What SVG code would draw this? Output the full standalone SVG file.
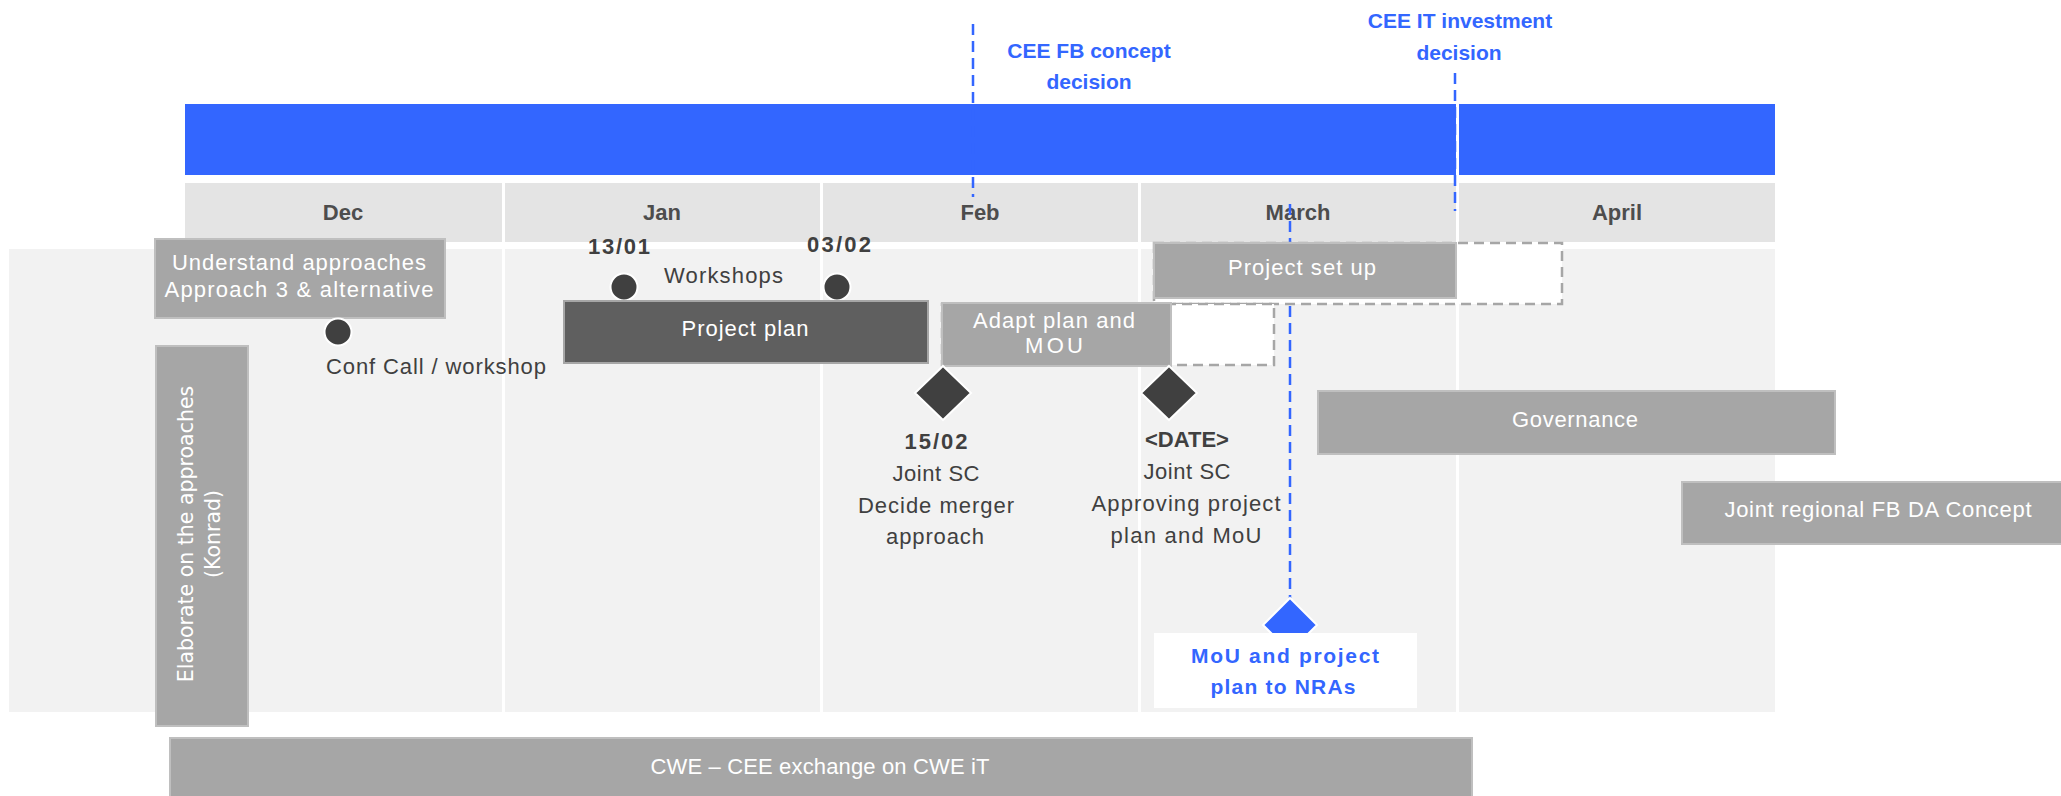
<svg xmlns="http://www.w3.org/2000/svg" width="2061" height="796" viewBox="0 0 2061 796">
<style>
.bg{fill:#F2F2F2}
.sep{fill:#FFFFFF}
.hdr{fill:#E4E4E4}
.band{fill:#3366FF}
.box{fill:#A6A6A6;stroke:#BFBFBF;stroke-width:2}
.dark{fill:#5F5F5F;stroke:#A6A6A6;stroke-width:2}
.dashbox{fill:#FFFFFF;stroke:#A6A6A6;stroke-width:2.5;stroke-dasharray:10 6}
.ms{fill:#404040;stroke:#FFFFFF;stroke-width:2}
.bms{fill:#3366FF;stroke:#FFFFFF;stroke-width:2}
.bl{fill:none;stroke:#3366FF;stroke-width:2.5;stroke-dasharray:11 6}
text{font-family:"Liberation Sans",Arial,sans-serif;font-size:22px}
.mon{font-weight:bold;fill:#4D4D4D;text-anchor:middle}
.w{fill:#FFFFFF;text-anchor:middle}
.d{fill:#404040;text-anchor:middle}
.db{fill:#404040;text-anchor:middle;font-weight:bold}
.blt{fill:#3366FF;font-weight:bold;text-anchor:middle;font-size:21px}
.vt{font-family:"DejaVu Sans",Verdana,sans-serif;font-size:20.5px;fill:#FFFFFF;text-anchor:middle}
</style>
<rect width="2061" height="796" fill="#FFFFFF"/>
<g id="background">
<rect class="bg" x="9" y="249" width="1766" height="463"/>
<rect class="sep" x="502" y="249" width="3" height="463"/>
<rect class="sep" x="820" y="249" width="3" height="463"/>
<rect class="sep" x="1138" y="249" width="3" height="463"/>
<rect class="sep" x="1456" y="249" width="3" height="463"/>
<rect class="band" x="185" y="104" width="1271" height="71"/>
<rect class="band" x="1459" y="104" width="316" height="71"/>
<rect class="hdr" x="185" y="183" width="317" height="59"/>
<rect class="hdr" x="505" y="183" width="315" height="59"/>
<rect class="hdr" x="823" y="183" width="315" height="59"/>
<rect class="hdr" x="1141" y="183" width="315" height="59"/>
<rect class="hdr" x="1459" y="183" width="316" height="59"/>
<text class="mon" x="343" y="220">Dec</text>
<text class="mon" x="662" y="220">Jan</text>
<text class="mon" x="980" y="220">Feb</text>
<text class="mon" x="1298" y="220">March</text>
<text class="mon" x="1617" y="220">April</text>
</g>
<g id="connectors">
<line class="bl" x1="973" y1="24" x2="973" y2="197"/>
<line class="bl" x1="1455" y1="73" x2="1455" y2="211"/>
<line class="bl" x1="1290" y1="204" x2="1290" y2="598"/>
</g>
<g id="cee-fb-decision">
<text class="blt" x="1089" y="58">CEE FB concept</text>
<text class="blt" x="1089" y="89">decision</text>
</g>
<g id="cee-it-decision">
<text class="blt" x="1460" y="28">CEE IT investment</text>
<text class="blt" x="1459" y="60">decision</text>
</g>
<g id="understand">
<rect class="box" x="155" y="239" width="290" height="79"/>
<text class="w" x="299" y="270" textLength="254" lengthAdjust="spacing">Understand approaches</text>
<text class="w" x="299" y="297" textLength="269" lengthAdjust="spacing">Approach 3 &amp; alternative</text>
</g>
<g id="conf-call">
<circle class="ms" cx="338" cy="332" r="13.5"/>
<text x="326" y="374" fill="#404040" textLength="220" lengthAdjust="spacing">Conf Call / workshop</text>
</g>
<g id="elaborate">
<rect class="box" x="156" y="346" width="92" height="380"/>
<text class="vt" transform="translate(193,534) rotate(-90)">Elaborate on the approaches</text>
<text class="vt" transform="translate(220,534) rotate(-90)">(Konrad)</text>
</g>
<g id="workshops">
<text class="db" x="619" y="254" textLength="62" lengthAdjust="spacing">13/01</text>
<circle class="ms" cx="624" cy="287" r="13.5"/>
<text x="664" y="283" fill="#404040" textLength="119" lengthAdjust="spacing">Workshops</text>
<text class="db" x="839" y="252" textLength="64" lengthAdjust="spacing">03/02</text>
<circle class="ms" cx="837" cy="287" r="13.5"/>
</g>
<g id="project-plan">
<rect class="dark" x="564" y="301" width="364" height="62"/>
<text class="w" x="745" y="336" textLength="127" lengthAdjust="spacing">Project plan</text>
</g>
<g id="project-setup">
<rect class="dashbox" x="1154" y="243" width="408" height="61"/>
<rect class="box" x="1154" y="243" width="302" height="55"/>
<text class="w" x="1302" y="275" textLength="148" lengthAdjust="spacing">Project set up</text>
</g>
<g id="adapt-plan">
<rect class="dashbox" x="942" y="304" width="332" height="61"/>
<rect class="box" x="942" y="303" width="229" height="63"/>
<text class="w" x="1054" y="328" textLength="162" lengthAdjust="spacing">Adapt plan and</text>
<text class="w" x="1054" y="353" textLength="58" lengthAdjust="spacing">MOU</text>
</g>
<g id="joint-sc-1">
<polygon class="ms" points="943,366 971,393 943,420 915,393"/>
<text class="db" x="936" y="449" textLength="63" lengthAdjust="spacing">15/02</text>
<text class="d" x="936" y="481" textLength="87" lengthAdjust="spacing">Joint SC</text>
<text class="d" x="936" y="513" textLength="156" lengthAdjust="spacing">Decide merger</text>
<text class="d" x="935" y="544" textLength="98" lengthAdjust="spacing">approach</text>
</g>
<g id="joint-sc-2">
<polygon class="ms" points="1169,366 1197,393 1169,420 1141,393"/>
<text class="db" x="1187" y="447">&lt;DATE&gt;</text>
<text class="d" x="1187" y="479" textLength="87" lengthAdjust="spacing">Joint SC</text>
<text class="d" x="1186" y="511" textLength="189" lengthAdjust="spacing">Approving project</text>
<text class="d" x="1186" y="543" textLength="151" lengthAdjust="spacing">plan and MoU</text>
</g>
<g id="governance">
<rect class="box" x="1318" y="391" width="517" height="63"/>
<text class="w" x="1575" y="427" textLength="126" lengthAdjust="spacing">Governance</text>
</g>
<g id="joint-regional">
<rect class="box" x="1682" y="482" width="393" height="62"/>
<text class="w" x="1878" y="517" textLength="307" lengthAdjust="spacing">Joint regional FB DA Concept</text>
</g>
<g id="mou-nras">
<polygon class="bms" points="1290,598 1317,625 1290,652 1263,625"/>
<rect x="1154" y="633" width="263" height="75" fill="#FFFFFF"/>
<text class="blt" x="1285" y="663" textLength="188" lengthAdjust="spacing">MoU and project</text>
<text class="blt" x="1283" y="694" textLength="145" lengthAdjust="spacing">plan to NRAs</text>
</g>
<g id="cwe-exchange">
<rect class="box" x="170" y="738" width="1302" height="70"/>
<text class="w" x="820" y="774" textLength="339" lengthAdjust="spacing">CWE – CEE exchange on CWE iT</text>
</g>
</svg>
